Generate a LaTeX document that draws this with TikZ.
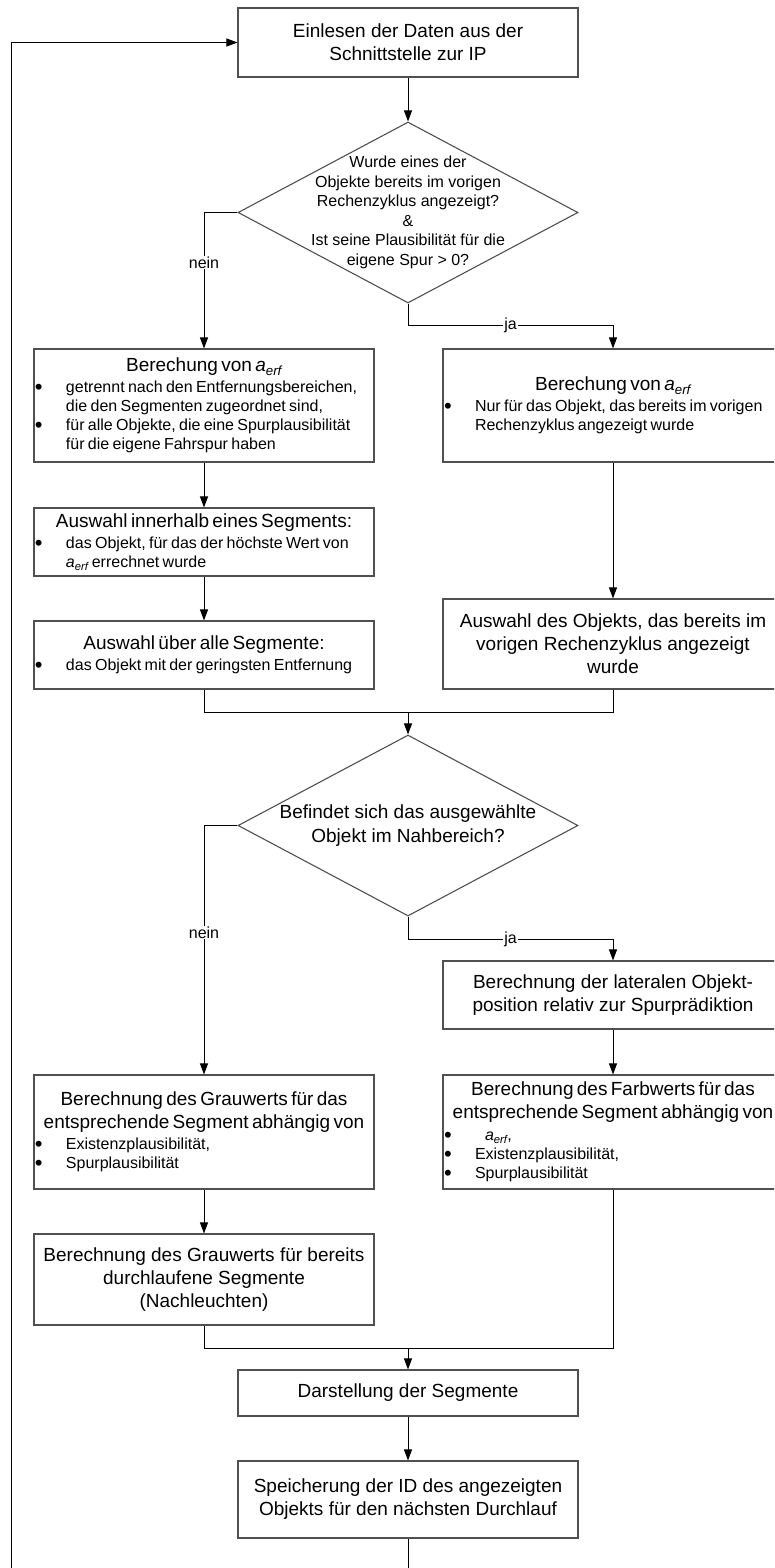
\documentclass[tikz,border=0pt]{standalone}
\usepackage{fontspec}
\setmainfont{Liberation Sans}
\usetikzlibrary{arrows.meta,shapes.geometric,calc}

\definecolor{framegray}{HTML}{505050}
\setlength{\parindent}{0pt}

% italic a with subscript erf
\newcommand\aerf{{\itshape a\textsubscript{erf}}}
% centred heading line(s) inside a list box
\newcommand\boxhead[1]{{\centering\fontsize{19}{23}\selectfont #1\par}\vspace{2.5pt}}
% bullet mark of the lists
\newcommand\listdot{\raisebox{-1.8pt}{\fontsize{22}{19}\selectfont\textbullet}}
% bulleted entry with hanging indent (lines broken with \newline)
\newcommand\boxitem[1]{{\raggedright\fontsize{16}{19}\selectfont\hangindent=32pt\hangafter=1\noindent\makebox[32pt][l]{\hspace{1pt}\listdot}#1\par}}

\tikzset{
  stepbox/.style={draw=framegray, line width=1.1pt, rectangle, minimum width=340pt,
    inner sep=0pt, align=center, font=\fontsize{19}{23}\selectfont},
  listbox/.style={draw=framegray, line width=1.1pt, rectangle, minimum width=340pt,
    inner sep=0pt, text width=340pt},
  decision/.style={draw=framegray, line width=1.1pt, diamond, minimum width=340pt,
    minimum height=181pt, inner sep=0pt},
  flow/.style={draw=black, line width=0.9pt, -{Triangle[length=11pt,width=8pt]}},
  joinline/.style={draw=black, line width=0.9pt},
  branch/.style={fill=white, inner sep=1pt, font=\fontsize{16}{19}\selectfont},
}

\begin{document}
\begin{tikzpicture}[x=1pt,y=-1pt]
\useasboundingbox (0,0) rectangle (774,1568);
\clip (0,0) rectangle (774,1568);

% --- nodes ---
\node[stepbox, minimum height=69pt] (top) at (408,42.5)
  {Einlesen der Daten aus der\\Schnittstelle zur IP};

\node[decision] (d1) at (408,212.5) {};
\node[align=center, inner sep=0pt, font=\fontsize{16}{19.5}\selectfont] (d1text) at (408,212.5)
  {Wurde eines der\\Objekte bereits im vorigen\\Rechenzyklus angezeigt?\\\&\\Ist seine Plausibilität für die\\eigene Spur > 0?};

\node[listbox, minimum height=113pt] (lb1) at (204,405.5) {%
  \boxhead{Berechung von \aerf}%
  \boxitem{getrennt nach den Entfernungsbereichen,\newline die den Segmenten zugeordnet sind,}%
  \boxitem{für alle Objekte, die eine Spurplausibilität\newline für die eigene Fahrspur haben}};

\node[listbox, minimum height=113pt] (rb1) at (613,405.5) {%
  \boxhead{Berechung von \aerf}%
  \boxitem{Nur für das Objekt, das bereits im vorigen\newline Rechenzyklus angezeigt wurde}};

\node[listbox, minimum height=68pt] (lb2) at (204,542) {%
  \boxhead{Auswahl innerhalb eines Segments:}%
  \boxitem{das Objekt, für das der höchste Wert von\newline \aerf{} errechnet wurde}};

\node[listbox, minimum height=68pt] (lb3) at (204,655) {%
  \boxhead{Auswahl über alle Segmente:}%
  \boxitem{das Objekt mit der geringsten Entfernung}};

\node[stepbox, minimum height=90pt] (rb2) at (613,644)
  {Auswahl des Objekts, das bereits im\\vorigen Rechenzyklus angezeigt\\wurde};

\coordinate (m1) at (408,712);

\node[decision] (d2) at (408,825.5) {};
\node[align=center, inner sep=0pt, font=\fontsize{19}{24}\selectfont] (d2text) at (408,825.5)
  {Befindet sich das ausgewählte\\Objekt im Nahbereich?};

\node[stepbox, minimum height=68pt] (rb3) at (613,995)
  {Berechnung der lateralen Objekt-\\position relativ zur Spurprädiktion};

\node[listbox, minimum height=114pt] (lb4) at (204,1132) {%
  \boxhead{Berechnung des Grauwerts für das\\entsprechende Segment abhängig von}%
  \boxitem{Existenzplausibilität,}%
  \boxitem{Spurplausibilität}};

\node[listbox, minimum height=114pt] (rb4) at (613,1132) {%
  \boxhead{Berechnung des Farbwerts für das\\entsprechende Segment abhängig von}%
  \boxitem{\hspace{10pt}\aerf,}%
  \boxitem{Existenzplausibilität,}%
  \boxitem{Spurplausibilität}};

\node[stepbox, minimum height=91pt] (lb5) at (204,1279.5)
  {Berechnung des Grauwerts für bereits\\durchlaufene Segmente\\(Nachleuchten)};

\coordinate (m2) at (408,1348);

\node[stepbox, minimum height=46pt] (ds) at (408,1393) {Darstellung der Segmente};

\node[stepbox, minimum height=77pt] (sp) at (408,1499.5)
  {Speicherung der ID des angezeigten\\Objekts für den nächsten Durchlauf};

\coordinate (ja1) at (408,325);
\coordinate (ja2) at (408,939);
\coordinate (lowturn) at (11,1600);

% --- connectors ---
\draw[flow] (top) -- (d1);
\draw[flow] (d1.west) -| node[branch, pos=0.684] {nein} (lb1.north);
\draw[joinline] (d1.south) -- (ja1);
\draw[flow] (ja1) -| node[branch, pos=0.25] {ja} (rb1.north);

\draw[flow] (lb1) -- (lb2);
\draw[flow] (lb2) -- (lb3);
\draw[flow] (rb1) -- (rb2);

\draw[joinline] (lb3.south) |- (m1);
\draw[joinline] (rb2.south) |- (m1);
\draw[flow] (m1) -- (d2.north);

\draw[flow] (d2.west) -| node[branch, pos=0.715] {nein} (lb4.north);
\draw[joinline] (d2.south) -- (ja2);
\draw[flow] (ja2) -| node[branch, pos=0.25] {ja} (rb3.north);
\draw[flow] (rb3) -- (rb4);
\draw[flow] (lb4) -- (lb5);

\draw[joinline] (lb5.south) |- (m2);
\draw[joinline] (rb4.south) |- (m2);
\draw[flow] (m2) -- (ds.north);
\draw[flow] (ds) -- (sp);

% feedback loop back to the start
\draw[joinline] (sp.south) |- (lowturn);
\draw[flow] (lowturn) |- (top.west);
\end{tikzpicture}
\end{document}
